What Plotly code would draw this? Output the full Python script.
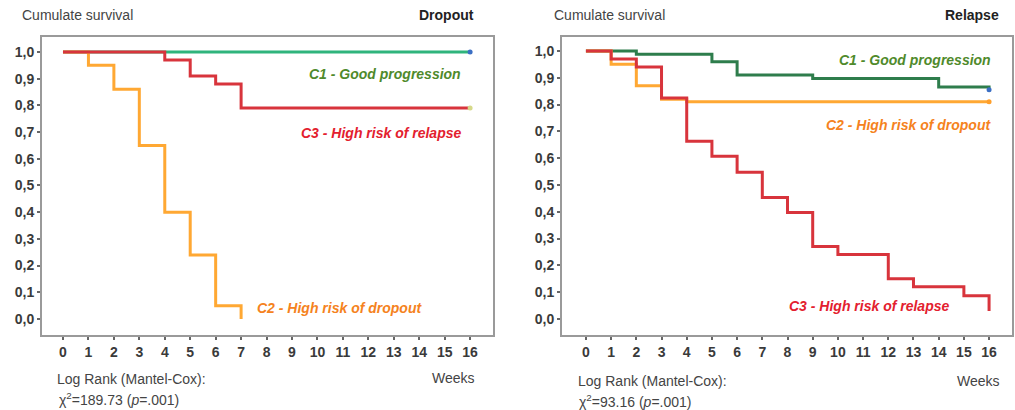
import plotly.graph_objects as go

# ---- data ----
weeks_ticks = list(range(0, 17))
y_ticks = [0.0, 0.1, 0.2, 0.3, 0.4, 0.5, 0.6, 0.7, 0.8, 0.9, 1.0]
y_tick_labels = ["0,0", "0,1", "0,2", "0,3", "0,4", "0,5", "0,6", "0,7", "0,8", "0,9", "1,0"]

# Dropout panel
drop_c1_t = [0, 16]
drop_c1_s = [1.0, 1.0]
drop_c2_t = [0, 1, 2, 3, 4, 5, 6, 7]
drop_c2_s = [1.0, 0.95, 0.86, 0.65, 0.40, 0.24, 0.05, 0.0]
drop_c3_t = [0, 4, 5, 6, 7, 16]
drop_c3_s = [1.0, 0.97, 0.91, 0.88, 0.79, 0.79]

# Relapse panel
rel_c1_t = [0, 2, 5, 6, 9, 14, 16]
rel_c1_s = [1.0, 0.988, 0.96, 0.91, 0.897, 0.865, 0.855]
rel_c2_t = [0, 1, 2, 3, 4, 16]
rel_c2_s = [1.0, 0.95, 0.87, 0.82, 0.81, 0.81]
rel_c3_t = [0, 1, 2, 3, 4, 5, 6, 7, 8, 9, 10, 12, 13, 15, 16]
rel_c3_s = [1.0, 0.97, 0.94, 0.824, 0.663, 0.607, 0.547, 0.453, 0.397, 0.27, 0.24, 0.15, 0.12, 0.086, 0.03]

W, H = 1015, 410
FONT = "Liberation Sans, Arial, sans-serif"
GREEN_A = "#2fb47c"
GREEN_B = "#2e7d4c"
RED = "#d8343c"
ORANGE = "#ffa833"
TXT_GREEN = "#4f8a2b"
TXT_ORANGE = "#f58220"
TXT_RED = "#e3202e"

fig = go.Figure()

def step(t, s, color, xa, ya, end_marker=None):
    fig.add_trace(go.Scatter(x=t, y=s, mode="lines", line=dict(color=color, width=3, shape="hv"),
                             xaxis=xa, yaxis=ya, showlegend=False, hoverinfo="skip"))
    if end_marker:
        fig.add_trace(go.Scatter(x=[t[-1]], y=[s[-1]], mode="markers",
                                 marker=dict(color=end_marker, size=5),
                                 xaxis=xa, yaxis=ya, showlegend=False, hoverinfo="skip"))

step(drop_c1_t, drop_c1_s, GREEN_A, "x", "y", "#3b6fc4")
step(drop_c2_t, drop_c2_s, ORANGE, "x", "y")
step(drop_c3_t, drop_c3_s, RED, "x", "y", "#d6d98a")

step(rel_c1_t, rel_c1_s, GREEN_B, "x2", "y2", "#3b6fc4")
step(rel_c2_t, rel_c2_s, ORANGE, "x2", "y2", "#ff9f2a")
step(rel_c3_t, rel_c3_s, RED, "x2", "y2")

def px(x): return x / W
def py(y): return 1 - y / H

axis_common = dict(showline=True, mirror=True, linecolor="#9a9a9a", linewidth=2,
                   showgrid=False, zeroline=False, ticks="outside", ticklen=3,
                   tickcolor="#666", tickwidth=2, automargin=False,
                   tickfont=dict(family=FONT, size=14, color="#3a3a3a", weight="bold"))

fig.update_layout(
    width=W, height=H, margin=dict(l=0, r=0, t=0, b=0),
    paper_bgcolor="white", plot_bgcolor="white",
    xaxis=dict(domain=[px(42), px(493)], range=[-0.825, 16.9], tickvals=weeks_ticks,
               anchor="y", **axis_common),
    yaxis=dict(domain=[py(335), py(37)], range=[-0.06, 1.056], tickvals=y_ticks,
               ticktext=y_tick_labels, anchor="x", **axis_common),
    xaxis2=dict(domain=[px(562), px(1012)], range=[-0.95, 16.91], tickvals=weeks_ticks,
                anchor="y2", **axis_common),
    yaxis2=dict(domain=[py(335), py(37)], range=[-0.06, 1.052], tickvals=y_ticks,
                ticktext=y_tick_labels, anchor="x2", **axis_common),
)

ann = []
def txt(x, y, text, xanchor="left", size=14, color="#333", bold=False, italic=False,
        xref="paper", yref="paper"):
    ann.append(dict(x=x, y=y, xref=xref, yref=yref, text=text, showarrow=False,
                    xanchor=xanchor, yanchor="middle",
                    font=dict(family=FONT, size=size, color=color,
                              weight="bold" if bold else "normal",
                              style="italic" if italic else "normal")))

# headers
txt(px(20), py(15), "Cumulate survival", color="#444")
txt(px(476), py(15), "Dropout", xanchor="right", bold=True, color="#222")
txt(px(552), py(15), "Cumulate survival", color="#444")
txt(px(1001), py(15), "Relapse", xanchor="right", bold=True, color="#222")

# footers
txt(px(55), py(379), "Log Rank (Mantel-Cox):", color="#444")
txt(px(57), py(399), "χ<sup>2</sup>=189.73 (<i>p</i>=.001)", color="#444")
txt(px(477), py(378), "Weeks", xanchor="right", color="#444")
txt(px(576), py(381), "Log Rank (Mantel-Cox):", color="#444")
txt(px(577), py(401), "χ<sup>2</sup>=93.16 (<i>p</i>=.001)", color="#444")
txt(px(1002), py(381), "Weeks", xanchor="right", color="#444")

# curve labels
txt(15.72, 0.918, "C1 - Good progression", xanchor="right", color=TXT_GREEN, bold=True, italic=True, xref="x", yref="y")
txt(15.72, 0.697, "C3 - High risk of relapse", xanchor="right", color=TXT_RED, bold=True, italic=True, xref="x", yref="y")
txt(7.55, 0.041, "C2 - High risk of dropout", xanchor="left", color=TXT_ORANGE, bold=True, italic=True, xref="x", yref="y")
txt(16.16, 0.966, "C1 - Good progression", xanchor="right", color=TXT_GREEN, bold=True, italic=True, xref="x2", yref="y2")
txt(16.16, 0.724, "C2 - High risk of dropout", xanchor="right", color=TXT_ORANGE, bold=True, italic=True, xref="x2", yref="y2")
txt(7.98, 0.049, "C3 - High risk of relapse", xanchor="left", color=TXT_RED, bold=True, italic=True, xref="x2", yref="y2")

fig.update_layout(annotations=ann)
fig.write_html("out.html", config={"displayModeBar": False},
               post_script="document.body.style.margin='0';document.body.style.overflow='hidden';")
